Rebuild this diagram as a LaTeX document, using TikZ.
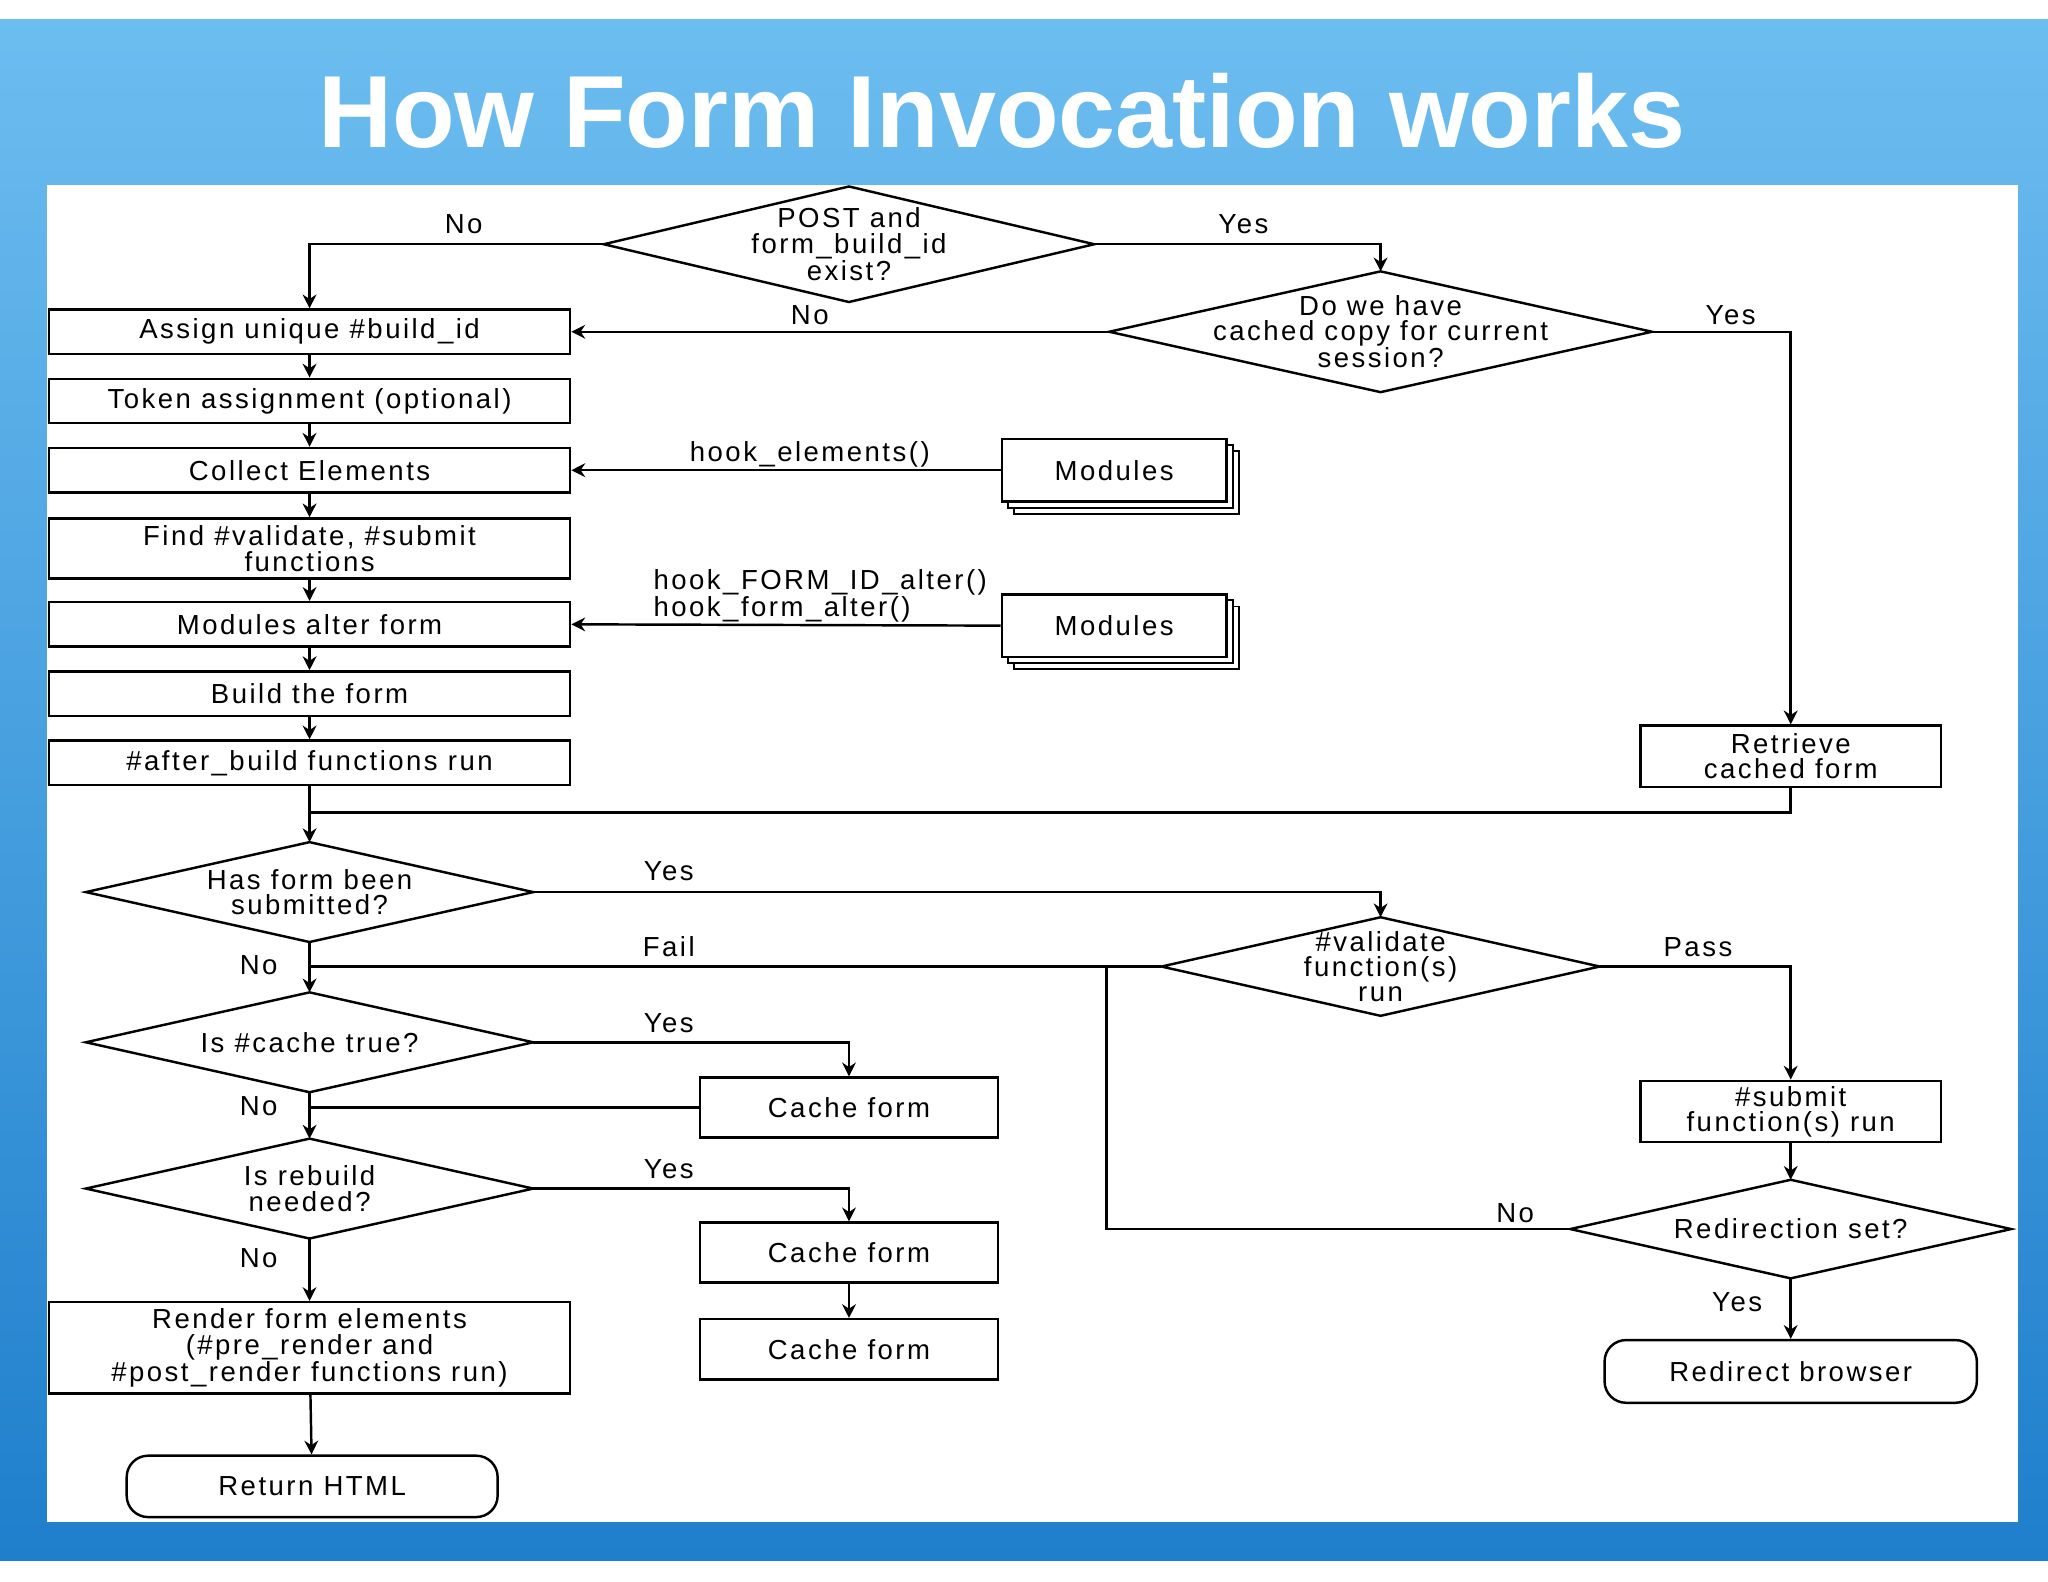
\documentclass[tikz,border=0pt]{standalone}
\usepackage{fontspec}
\setmainfont{Liberation Sans}
\newfontfamily\dfont[LetterSpace=9]{Liberation Sans}
\usetikzlibrary{shapes.geometric,arrows.meta,shadows}
\definecolor{skyA}{HTML}{6CBDF0}
\definecolor{skyB}{HTML}{1F7FCC}
\newcommand\mydia[6]{%
  \node[dia,minimum width=#4,minimum height=#5] (#1) at (#2,#3) {#6};
  \draw[line width=1.6pt,fill=white] (#1.west)--(#1.north)--(#1.east)--(#1.south)--cycle;
  \node[dia] at (#1.center) {#6};}
\begin{document}
\begin{tikzpicture}[x=0.03cm,y=-0.03cm,
  every node/.style={font=\dfont\fontsize{18}{16.5}\selectfont},
  box/.style={draw,line width=1.6pt,minimum width=11.97cm,minimum height=1.02cm,inner sep=2pt,align=center,fill=white},
  dia/.style={inner sep=0pt,align=center},
  rbox/.style={draw,line width=1.6pt,rounded corners=14pt,align=center,fill=white},
  mods/.style={draw,line width=1.6pt,minimum width=5.16cm,minimum height=1.44cm,fill=white,
     double copy shadow={shadow xshift=4pt,shadow yshift=-4pt,draw,line width=1.2pt,fill=white}},
  ln/.style={line width=1.6pt},
  ar/.style={line width=1.6pt,-{Stealth[length=9pt,width=9pt]}},
  lab/.style={inner sep=1pt}]
\useasboundingbox (0,0) rectangle (1568,1211);
\fill[white] (0,0) rectangle (1568,1211);
\shade[top color=skyA,bottom color=skyB] (0,15) rectangle (1568,1195);
\fill[white] (36,142) rectangle (1545,1165);
\node[text=white,font=\fontsize{67}{75}\bfseries\selectfont] (title) at (767,85) {How Form Invocation works};

\mydia{d1}{650}{187}{11.25cm}{2.64cm}{POST and\\form\_build\_id\\exist?}
\mydia{d2}{1057}{254}{12.45cm}{2.76cm}{Do we have\\cached copy for current\\session?}
\node[box] (assign) at (237,254) {Assign unique \#build\_id};
\node[box] (token) at (237,307) {Token assignment (optional)};
\node[box] (collect) at (237,360) {Collect Elements};
\node[box,minimum height=1.38cm] (find) at (237,420) {Find \#validate, \#submit\\functions};
\node[box] (alter) at (237,478) {Modules alter form};
\node[box] (build) at (237,531) {Build the form};
\node[box] (after) at (237,584) {\#after\_build functions run};
\node[mods] (m1) at (853,360) {Modules};
\node[mods] (m2) at (853,479) {Modules};
\node[box,minimum width=6.9cm,minimum height=1.41cm] (retr) at (1371,579) {Retrieve\\cached form};
\coordinate (join) at (238,622);
\mydia{d3}{237}{683}{10.26cm}{2.28cm}{Has form been\\submitted?}
\mydia{d4}{1057}{740}{10.05cm}{2.25cm}{\#validate\\function(s)\\run}
\mydia{d5}{237}{798}{10.26cm}{2.28cm}{Is \#cache true?}
\node[box,minimum width=6.84cm,minimum height=1.38cm] (c1) at (650,848) {Cache form};
\mydia{d6}{237}{910}{10.26cm}{2.28cm}{Is rebuild\\needed?}
\node[box,minimum width=6.84cm,minimum height=1.38cm] (c2) at (650,959) {Cache form};
\node[box,minimum width=6.84cm,minimum height=1.38cm] (c3) at (650,1033) {Cache form};
\node[box,minimum height=2.1cm] (render) at (237,1032) {Render form elements\\(\#pre\_render and\\\#post\_render functions run)};
\node[rbox,minimum width=8.52cm,minimum height=1.41cm] (ret) at (239,1138) {Return HTML};
\node[box,minimum width=6.9cm,minimum height=1.41cm] (sub) at (1371,851) {\#submit\\function(s) run};
\mydia{d7}{1371}{941}{10.11cm}{2.25cm}{Redirection set?}
\node[rbox,minimum width=8.55cm,minimum height=1.44cm] (redir) at (1371,1050) {Redirect browser};
\coordinate (fl) at (847,740);
\coordinate (fb) at (847,941);

\draw[ar] (d1.west) -| (assign.north);
\draw[ar] (d1.east) -| (d2.north);
\draw[ar] (d2.west) -- (assign.east);
\draw[ar] (d2.east) -| (retr.north);
\draw[ar] (assign) -- (token);
\draw[ar] (token) -- (collect);
\draw[ar] (collect) -- (find);
\draw[ar] (find) -- (alter);
\draw[ar] (alter) -- (build);
\draw[ar] (build) -- (after);
\draw[ar] (m1.west) -- (collect.east);
\draw[ar] (m2.west) -- (alter.east);
\draw[ar] (after) -- (d3.north);
\draw[ln] (retr.south) |- (join);
\draw[ar] (d3.east) -| (d4.north);
\draw[ar] (d3.south) -- (d5.north);
\draw[ln] (d4.west) -- (238,740);
\draw[ln] (d7.west) -- (fb) -- (fl);
\draw[ar] (d4.east) -| (sub.north);
\draw[ar] (sub) -- (d7.north);
\draw[ar] (d7.south) -- (redir.north);
\draw[ar] (d5.east) -| (c1.north);
\draw[ar] (d5.south) -- (d6.north);
\draw[ln] (c1.west) -- (238,848);
\draw[ar] (d6.east) -| (c2.north);
\draw[ar] (c2) -- (c3);
\draw[ar] (d6.south) -- (render.north);
\draw[ar] (render) -- (ret);

\node[lab] (l1) at (355,172) {No};
\node[lab] (l2) at (952,172) {Yes};
\node[lab] (l3) at (620,241) {No};
\node[lab] (l4) at (1325,241) {Yes};
\node[lab] (l5) at (620,348) {hook\_elements()};
\node[lab,align=left] (l6) at (628,456) {hook\_FORM\_ID\_alter()\\hook\_form\_alter()};
\node[lab] (l7) at (512,667) {Yes};
\node[lab] (l8) at (512,725) {Fail};
\node[lab] (l9) at (1300,725) {Pass};
\node[lab] (l10) at (198,739) {No};
\node[lab] (l11) at (512,783) {Yes};
\node[lab] (l12) at (198,847) {No};
\node[lab] (l13) at (512,895) {Yes};
\node[lab] (l14) at (198,963) {No};
\node[lab] (l15) at (1160,929) {No};
\node[lab] (l16) at (1330,997) {Yes};
\end{tikzpicture}
\end{document}
